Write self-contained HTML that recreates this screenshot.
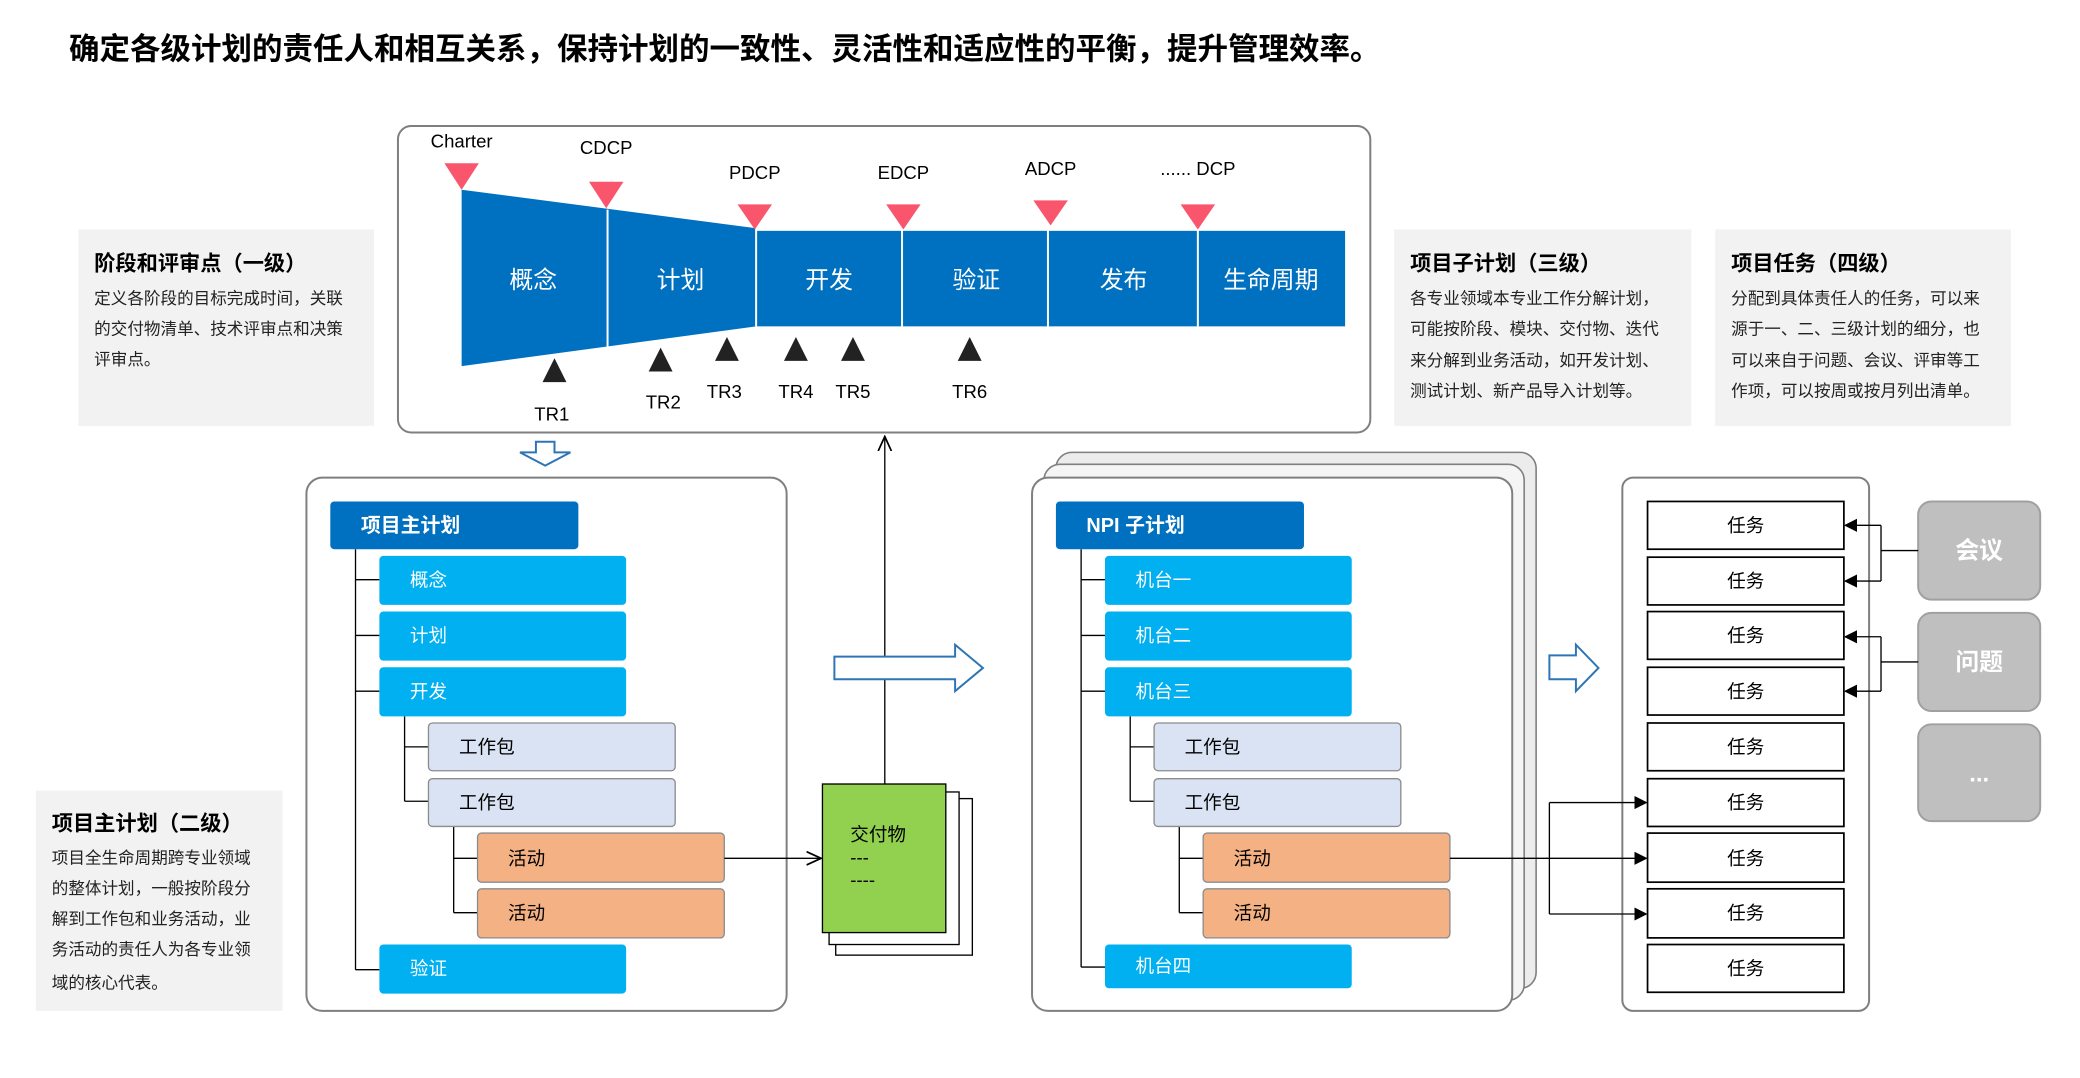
<!DOCTYPE html>
<html><head><meta charset="utf-8"><style>
html,body{margin:0;padding:0;background:#fff;}
svg{display:block;font-family:"Liberation Sans","Noto Sans CJK SC",sans-serif;}
</style></head><body>
<svg width="2080" height="1078" viewBox="0 0 1568 812.6" xmlns="http://www.w3.org/2000/svg">
<defs>
<marker id="ah" markerWidth="10" markerHeight="10" refX="9" refY="5" orient="auto" markerUnits="userSpaceOnUse"><path d="M0,0 L10,5 L0,10 z" fill="#000"/></marker>
<marker id="oa" markerWidth="12" markerHeight="12" refX="11" refY="6" orient="auto" markerUnits="userSpaceOnUse"><path d="M0,1 L11,6 L0,11" fill="none" stroke="#000" stroke-width="1.3"/></marker>
</defs>
<text x="52" y="45" font-size="23" font-weight="bold" fill="#000">确定各级计划的责任人和相互关系，保持计划的一致性、灵活性和适应性的平衡，提升管理效率。</text>

<rect x="300" y="95" width="733" height="231" rx="10" fill="#fff" stroke="#7f7f7f" stroke-width="1.5"/>
<polygon points="348,143 570,172 570,246 348,276" fill="#0070c0"/>
<rect x="570" y="174" width="444" height="72" fill="#0070c0"/>
<g stroke="#fff" stroke-width="1.5"><line x1="458" y1="158" x2="458" y2="262"/><line x1="570" y1="172" x2="570" y2="246"/><line x1="680" y1="172" x2="680" y2="246"/><line x1="790" y1="172" x2="790" y2="246"/><line x1="903" y1="172" x2="903" y2="246"/></g>
<g fill="#fff" font-size="18" text-anchor="middle"><text x="402" y="217">概念</text><text x="513" y="217">计划</text><text x="625" y="217">开发</text><text x="736" y="217">验证</text><text x="847" y="217">发布</text><text x="958" y="217">生命周期</text></g>
<g fill="#f9566e"><polygon points="335,123 361,123 348,143"/><polygon points="444,137 470,137 457,157"/><polygon points="556,154 582,154 569,173"/><polygon points="668,154 694,154 681,173"/><polygon points="779,151 805,151 792,170"/><polygon points="890,154 916,154 903,173"/></g>
<g font-size="14" text-anchor="middle" fill="#000"><text x="348" y="111">Charter</text><text x="457" y="116">CDCP</text><text x="569" y="135">PDCP</text><text x="681" y="135">EDCP</text><text x="792" y="132">ADCP</text><text x="903" y="132">...... DCP</text></g>
<g fill="#222"><polygon points="418,270 427,288 409,288"/><polygon points="498,262 507,280 489,280"/><polygon points="548,254 557,272 539,272"/><polygon points="600,254 609,272 591,272"/><polygon points="643,254 652,272 634,272"/><polygon points="731,254 740,272 722,272"/></g>
<g font-size="14" text-anchor="middle" fill="#000"><text x="416" y="317">TR1</text><text x="500" y="308">TR2</text><text x="546" y="300">TR3</text><text x="600" y="300">TR4</text><text x="643" y="300">TR5</text><text x="731" y="300">TR6</text></g>

<rect x="59" y="173" width="223" height="148" fill="#f2f2f2"/>
<text x="71" y="204" font-size="16" font-weight="bold">阶段和评审点（一级）</text>
<g font-size="12.5" fill="#222"><text x="71" y="229">定义各阶段的目标完成时间，关联</text><text x="71" y="252">的交付物清单、技术评审点和决策</text><text x="71" y="275">评审点。</text></g>
<rect x="1051" y="173" width="224" height="148" fill="#f2f2f2"/>
<text x="1063" y="204" font-size="16" font-weight="bold">项目子计划（三级）</text>
<g font-size="12.5" fill="#222"><text x="1063" y="229">各专业领域本专业工作分解计划，</text><text x="1063" y="252">可能按阶段、模块、交付物、迭代</text><text x="1063" y="276">来分解到业务活动，如开发计划、</text><text x="1063" y="299">测试计划、新产品导入计划等。</text></g>
<rect x="1293" y="173" width="223" height="148" fill="#f2f2f2"/>
<text x="1305" y="204" font-size="16" font-weight="bold">项目任务（四级）</text>
<g font-size="12.5" fill="#222"><text x="1305" y="229">分配到具体责任人的任务，可以来</text><text x="1305" y="252">源于一、二、三级计划的细分，也</text><text x="1305" y="276">可以来自于问题、会议、评审等工</text><text x="1305" y="299">作项，可以按周或按月列出清单。</text></g>
<rect x="27" y="596" width="186" height="166" fill="#f2f2f2"/>
<text x="39" y="626" font-size="16" font-weight="bold">项目主计划（二级）</text>
<g font-size="12.5" fill="#222"><text x="39" y="651">项目全生命周期跨专业领域</text><text x="39" y="674">的整体计划，一般按阶段分</text><text x="39" y="697">解到工作包和业务活动，业</text><text x="39" y="720">务活动的责任人为各专业领</text><text x="39" y="745">域的核心代表。</text></g>

<path d="M404,333 L418,333 L418,341 L430,341 L411,351 L392,341 L404,341 Z" fill="#fff" stroke="#2e75b6" stroke-width="1.5"/>

<rect x="231" y="360" width="362" height="402" rx="12" fill="#fff" stroke="#7f7f7f" stroke-width="1.5"/>
<g stroke="#000" stroke-width="1" fill="none">
<path d="M268,414 V731 M268,437 H286 M268,479 H286 M268,521 H286 M268,731 H286"/>
<path d="M305,540 V604 M305,563 H323 M305,604 H323"/>
<path d="M342,623 V688 M342,647 H360 M342,688 H360"/>
</g>
<rect x="249" y="378" width="187" height="36" rx="3" fill="#0070c0"/>
<text x="272" y="401" font-size="15" font-weight="bold" fill="#fff">项目主计划</text>
<g fill="#00b0f0"><rect x="286" y="419" width="186" height="37" rx="3"/><rect x="286" y="461" width="186" height="37" rx="3"/><rect x="286" y="503" width="186" height="37" rx="3"/><rect x="286" y="712" width="186" height="37" rx="3"/></g>
<g fill="#dae3f3" stroke="#8c8c8c"><rect x="323" y="545" width="186" height="36" rx="3"/><rect x="323" y="587" width="186" height="36" rx="3"/></g>
<g fill="#f4b183" stroke="#8c8c8c"><rect x="360" y="628" width="186" height="37" rx="3"/><rect x="360" y="670" width="186" height="37" rx="3"/></g>
<g font-size="14" fill="#fff"><text x="309" y="442">概念</text><text x="309" y="484">计划</text><text x="309" y="526">开发</text><text x="309" y="735">验证</text></g>
<g font-size="14" fill="#000"><text x="346" y="568">工作包</text><text x="346" y="610">工作包</text><text x="383" y="652">活动</text><text x="383" y="693">活动</text></g>

<line x1="546" y1="647" x2="619" y2="647" stroke="#000" stroke-width="1" marker-end="url(#oa)"/>
<rect x="630" y="602" width="103" height="118" fill="#fff" stroke="#000"/>
<rect x="625" y="597" width="98" height="115" fill="#fff" stroke="#000"/>
<rect x="620" y="591" width="93" height="112" fill="#92d050" stroke="#000"/>
<g font-size="14"><text x="641" y="634">交付物</text><text x="641" y="651">---</text><text x="641" y="668">----</text></g>
<line x1="667" y1="591" x2="667" y2="329" stroke="#000" stroke-width="1" marker-end="url(#oa)"/>
<path d="M629,495 L720,495 L720,486 L741,503.5 L720,521 L720,512 L629,512 Z" fill="#fff" stroke="#2e75b6" stroke-width="1.5"/>

<rect x="796" y="341" width="362" height="404" rx="12" fill="#ececec" stroke="#7f7f7f" stroke-width="1.2"/>
<rect x="787" y="350" width="362" height="404" rx="12" fill="#f5f5f5" stroke="#7f7f7f" stroke-width="1.2"/>
<rect x="778" y="360" width="362" height="402" rx="12" fill="#fff" stroke="#7f7f7f" stroke-width="1.5"/>
<g stroke="#000" stroke-width="1" fill="none">
<path d="M815,414 V729 M815,437 H833 M815,479 H833 M815,521 H833 M815,729 H833"/>
<path d="M852,540 V604 M852,563 H870 M852,604 H870"/>
<path d="M889,623 V688 M889,647 H907 M889,688 H907"/>
</g>
<rect x="796" y="378" width="187" height="36" rx="3" fill="#0070c0"/>
<text x="819" y="401" font-size="15" font-weight="bold" fill="#fff">NPI 子计划</text>
<g fill="#00b0f0"><rect x="833" y="419" width="186" height="37" rx="3"/><rect x="833" y="461" width="186" height="37" rx="3"/><rect x="833" y="503" width="186" height="37" rx="3"/><rect x="833" y="712" width="186" height="33" rx="3"/></g>
<g fill="#dae3f3" stroke="#8c8c8c"><rect x="870" y="545" width="186" height="36" rx="3"/><rect x="870" y="587" width="186" height="36" rx="3"/></g>
<g fill="#f4b183" stroke="#8c8c8c"><rect x="907" y="628" width="186" height="37" rx="3"/><rect x="907" y="670" width="186" height="37" rx="3"/></g>
<g font-size="14" fill="#fff"><text x="856" y="442">机台一</text><text x="856" y="484">机台二</text><text x="856" y="526">机台三</text><text x="856" y="733">机台四</text></g>
<g font-size="14" fill="#000"><text x="893" y="568">工作包</text><text x="893" y="610">工作包</text><text x="930" y="652">活动</text><text x="930" y="693">活动</text></g>

<path d="M1168,494 L1188,494 L1188,486 L1205,503.5 L1188,521 L1188,512 L1168,512 Z" fill="#fff" stroke="#2e75b6" stroke-width="1.5"/>

<rect x="1223" y="360" width="186" height="402" rx="8" fill="#fff" stroke="#7f7f7f" stroke-width="1.5"/>
<g fill="#fff" stroke="#000" stroke-width="1.3">
<rect x="1242" y="378" width="148" height="36"/><rect x="1242" y="420" width="148" height="36"/><rect x="1242" y="461" width="148" height="36"/><rect x="1242" y="503" width="148" height="36"/><rect x="1242" y="545" width="148" height="36"/><rect x="1242" y="587" width="148" height="36"/><rect x="1242" y="628" width="148" height="37"/><rect x="1242" y="670" width="148" height="37"/><rect x="1242" y="712" width="148" height="36"/></g>
<g font-size="14" text-anchor="middle"><text x="1316" y="401">任务</text><text x="1316" y="443">任务</text><text x="1316" y="484">任务</text><text x="1316" y="526">任务</text><text x="1316" y="568">任务</text><text x="1316" y="610">任务</text><text x="1316" y="652">任务</text><text x="1316" y="693">任务</text><text x="1316" y="735">任务</text></g>

<g stroke="#000" stroke-width="1" fill="none">
<path d="M1093,647 H1168 M1168,605 V689"/>
<line x1="1168" y1="605" x2="1241" y2="605" marker-end="url(#ah)"/>
<line x1="1168" y1="647" x2="1241" y2="647" marker-end="url(#ah)"/>
<line x1="1168" y1="689" x2="1241" y2="689" marker-end="url(#ah)"/>
</g>

<g fill="#bfbfbf" stroke="#a0a0a0" stroke-width="1.5"><rect x="1446" y="378" width="92" height="74" rx="10"/><rect x="1446" y="462" width="92" height="74" rx="10"/><rect x="1446" y="546" width="92" height="73" rx="10"/></g>
<g font-size="18" font-weight="bold" fill="#fff" text-anchor="middle"><text x="1492" y="421">会议</text><text x="1492" y="505">问题</text><text x="1492" y="589">...</text></g>
<g stroke="#000" stroke-width="1" fill="none">
<path d="M1446,415 H1418 M1418,396 V438"/>
<line x1="1418" y1="396" x2="1391" y2="396" marker-end="url(#ah)"/>
<line x1="1418" y1="438" x2="1391" y2="438" marker-end="url(#ah)"/>
<path d="M1446,499 H1418 M1418,480 V521"/>
<line x1="1418" y1="480" x2="1391" y2="480" marker-end="url(#ah)"/>
<line x1="1418" y1="521" x2="1391" y2="521" marker-end="url(#ah)"/>
</g>
</svg>
</body></html>
